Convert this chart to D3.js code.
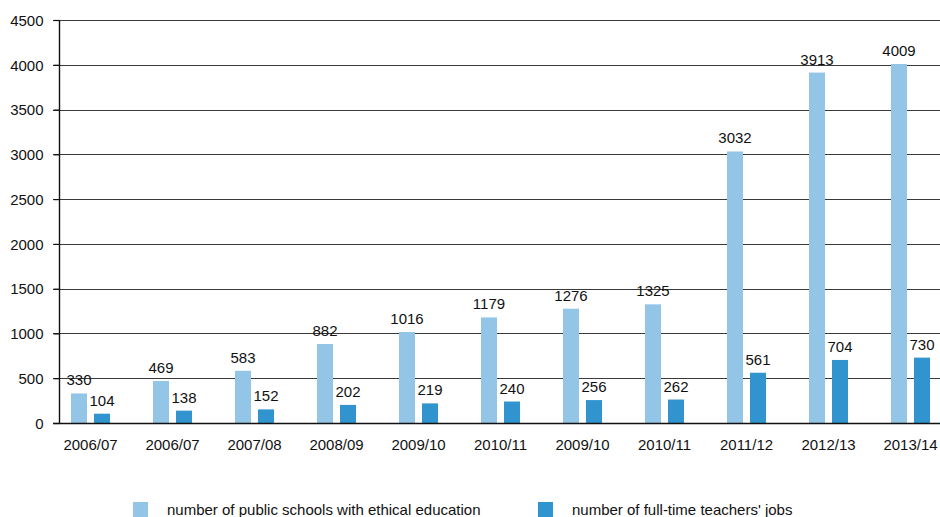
<!DOCTYPE html>
<html>
<head>
<meta charset="utf-8">
<script src="https://cdn.jsdelivr.net/npm/d3@7"></script>
<style>
  html, body { margin: 0; padding: 0; background: #fff; }
  svg { display: block; font-family: "Liberation Sans", Arial, sans-serif; }
</style>
</head>
<body>
<svg id="chart" width="940" height="517"></svg>
<script>
const categories = ["2006/07", "2006/07", "2007/08", "2008/09", "2009/10", "2010/11", "2009/10", "2010/11", "2011/12", "2012/13", "2013/14"];
const schools = [330, 469, 583, 882, 1016, 1179, 1276, 1325, 3032, 3913, 4009];
const teachers = [104, 138, 152, 202, 219, 240, 256, 262, 561, 704, 730];
const seriesNames = ["number of public schools with ethical education", "number of full-time teachers' jobs"];
const yTicks = [0, 500, 1000, 1500, 2000, 2500, 3000, 3500, 4000, 4500];

const colors = ["#92c5e6", "#3194ce"];
const svg = d3.select("#chart");
const FS = 15;

const y = d3.scaleLinear().domain([0, 4500]).range([423, 20]);
const x = d3.scaleBand().domain(d3.range(categories.length)).range([49.5, 951.5]).paddingInner(0).paddingOuter(0);
const xs = d3.scaleBand().domain([0, 1]).range([21.5, 60.5]).paddingInner(7 / 23).paddingOuter(0);

// gridlines
svg.append("g").selectAll("line").data(yTicks.filter(d => d > 0)).join("line")
  .attr("x1", 53).attr("x2", 940)
  .attr("y1", d => Math.round(y(d)) + 0.5).attr("y2", d => Math.round(y(d)) + 0.5)
  .attr("stroke", "#3a3a3a").attr("stroke-width", 1.2);

// y axis labels + ticks
const yAxis = svg.append("g").attr("transform", "translate(59.5,0)")
  .call(d3.axisLeft(y).tickValues(yTicks).tickSize(6).tickSizeOuter(0).tickFormat(d3.format("d")));
yAxis.select(".domain").remove();
yAxis.selectAll(".tick line").attr("stroke", "#111").attr("stroke-width", 1.2);
yAxis.selectAll(".tick text").attr("x", -16).attr("dy", "0.35em")
  .attr("font-size", FS).attr("fill", "#111").attr("font-family", "Liberation Sans, Arial, sans-serif");

// bars
const series = [schools, teachers];
series.forEach((vals, si) => {
  const g = svg.append("g");
  g.selectAll("rect").data(vals).join("rect")
    .attr("x", (d, i) => x(i) + xs(si))
    .attr("width", xs.bandwidth())
    .attr("y", d => y(d))
    .attr("height", d => y(0) - y(d))
    .attr("fill", colors[si]);
  g.selectAll("text").data(vals).join("text")
    .attr("x", (d, i) => x(i) + xs(si) + xs.bandwidth() / 2)
    .attr("y", d => y(d) - 8)
    .attr("text-anchor", "middle")
    .attr("font-size", FS)
    .attr("fill", "#111")
    .text(d => d);
});

// x axis line (baseline)
svg.append("line").attr("x1", 53).attr("x2", 940)
  .attr("y1", Math.round(y(0)) + 0.5).attr("y2", Math.round(y(0)) + 0.5)
  .attr("stroke", "#111").attr("stroke-width", 1.4);
// y axis line
svg.append("line").attr("x1", 59.5).attr("x2", 59.5).attr("y1", y(4500)).attr("y2", y(0))
  .attr("stroke", "#111").attr("stroke-width", 1.4);

// x labels
const xAxis = svg.append("g").attr("transform", `translate(0,${y(0)})`)
  .call(d3.axisBottom(x).tickSize(0).tickFormat(i => categories[i]));
xAxis.select(".domain").remove();
xAxis.selectAll(".tick text").attr("y", 16).attr("dy", "0.71em")
  .attr("font-size", FS).attr("fill", "#111").attr("font-family", "Liberation Sans, Arial, sans-serif");

// legend
const legendX = [133, 538];
seriesNames.forEach((name, si) => {
  const lg = svg.append("g").attr("transform", `translate(${legendX[si]},502)`);
  lg.append("rect").attr("width", 15).attr("height", 15).attr("fill", colors[si]);
  lg.append("text").attr("x", 34).attr("y", 12.5).attr("font-size", FS).attr("fill", "#111").text(name);
});
</script>
</body>
</html>
